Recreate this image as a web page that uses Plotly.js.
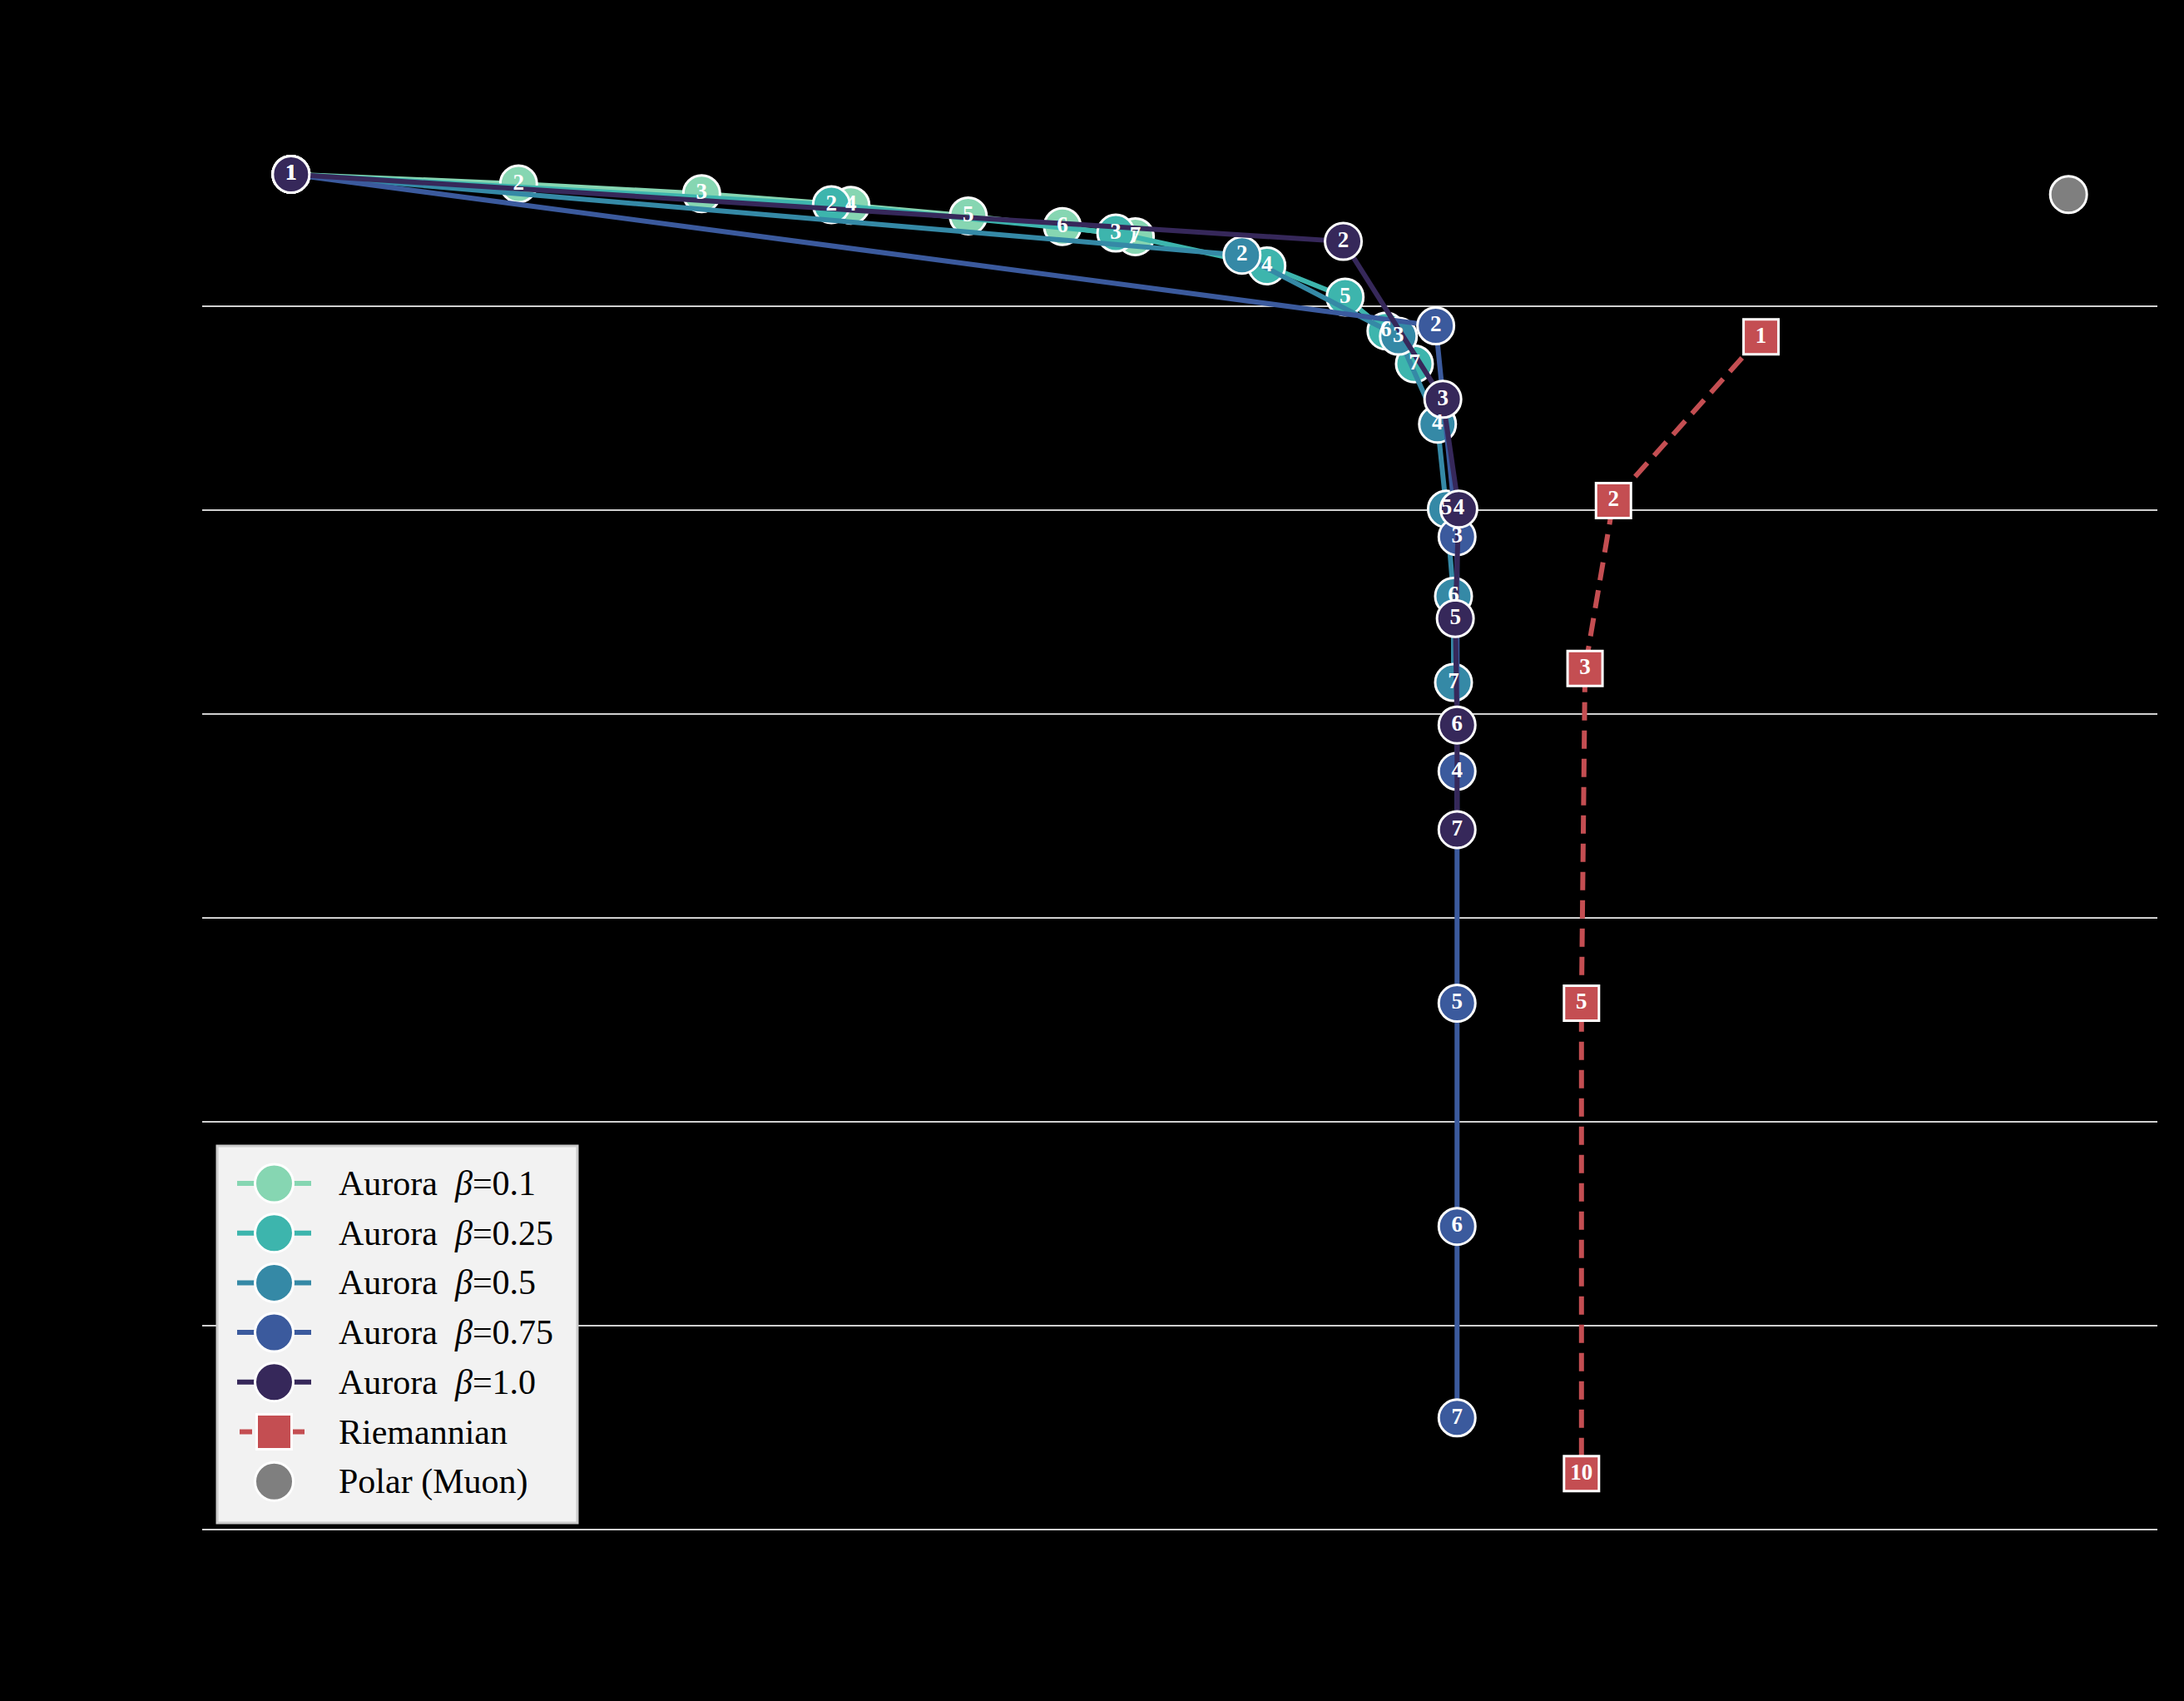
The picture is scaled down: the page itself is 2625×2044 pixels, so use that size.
<!DOCTYPE html>
<html>
<head>
<meta charset="utf-8">
<script src="https://cdn.plot.ly/plotly-3.0.1.min.js"></script>
<style>
    html, body { margin: 0; padding: 0; background: #000; }
    #plotlyFig { width: 2625px; height: 2044px; }
</style>
</head>
<body>
<div id="plotlyFig"></div>
<script>
// values (axes have no visible labels, y is in decades)
const steps = ['1', '2', '3', '4', '5', '6', '7'];

const b010X = [0, 0.128, 0.231, 0.315, 0.381, 0.434, 0.475];
const b010Y = [-0.355, -0.402, -0.450, -0.507, -0.559, -0.611, -0.661];

const b025X = [0, 0.304, 0.464, 0.549, 0.593, 0.616, 0.632];
const b025Y = [-0.355, -0.504, -0.643, -0.804, -0.957, -1.123, -1.284];

const b050X = [0, 0.535, 0.623, 0.645, 0.650, 0.654, 0.654];
const b050Y = [-0.355, -0.752, -1.149, -1.580, -1.996, -2.424, -2.846];

const b075X = [0, 0.644, 0.656, 0.656, 0.656, 0.656, 0.656];
const b075Y = [-0.355, -1.098, -2.132, -3.282, -4.419, -5.513, -6.452];

const b100X = [0, 0.592, 0.648, 0.657, 0.655, 0.656, 0.656];
const b100Y = [-0.355, -0.684, -1.458, -1.996, -2.533, -3.055, -3.568];

const riemSteps = ['1', '2', '3', '5', '10'];
const riemX = [0.827, 0.744, 0.728, 0.726, 0.726];
const riemY = [-1.152, -1.955, -2.778, -4.419, -6.725];

const polarX = [1.0];
const polarY = [-0.454];

const gridY = [-1, -2, -3, -4, -5, -6, -7];

const auroraNames = ['0.1', '0.25', '0.5', '0.75', '1.0'];
const auroraColors = ['#86d6b2', '#3db5ad', '#3589a6', '#3b5a9d', '#36285a'];
const auroraXs = [b010X, b025X, b050X, b075X, b100X];
const auroraYs = [b010Y, b025Y, b050Y, b075Y, b100Y];
const riemColor = '#c44e52';
const polarColor = '#7f7f7f';

const serif = '"Liberation Serif", "Times New Roman", serif';

// plot area in pixels, used to place the hand-built legend
const W = 2625, H = 2044;
const M = { l: 243, r: 32, t: 131, b: 196 };
const px = (X) => (X - M.l) / (W - M.l - M.r);
const py = (Y) => (H - M.b - Y) / (H - M.t - M.b);

const legendEntries = auroraNames.map((b, i) => ({
    text: 'Aurora\u00a0\u00a0<i>β</i>=' + b,
    color: auroraColors[i],
    symbol: 'circle',
    dash: 'solid',
})).concat([
    { text: 'Riemannian', color: riemColor, symbol: 'square', dash: '15px,6px' },
    { text: 'Polar (Muon)', color: polarColor, symbol: 'circle', dash: null },
]);

const orthPlot = {
    element: document.getElementById('plotlyFig'),
    config: {
        staticPlot: true,
    },
    layout: {
        width: W,
        height: H,
        margin: M,
        paper_bgcolor: '#000000',
        plot_bgcolor: '#000000',
        font: {
            family: serif,
            color: '#000000',
        },
        xaxis: {
            range: [-0.05, 1.05],
            showgrid: false,
            zeroline: false,
            showline: false,
            ticks: '',
            showticklabels: false,
        },
        yaxis: {
            range: [-7.04, -0.035],
            tickvals: gridY,
            showgrid: true,
            gridcolor: '#d0d0d0',
            gridwidth: 2,
            zeroline: false,
            showline: false,
            ticks: '',
            showticklabels: false,
        },
        showlegend: false,
    },
    get lines() {
        const traces = auroraNames.map((b, i) => ({
            x: auroraXs[i],
            y: auroraYs[i],
            type: 'scatter',
            mode: 'lines+markers',
            name: 'Aurora β=' + b,
            line: { color: auroraColors[i], width: 6 },
            marker: {
                color: auroraColors[i],
                size: 44,
                line: { color: '#ffffff', width: 3 },
            },
        }));
        traces.push({
            x: riemX,
            y: riemY,
            type: 'scatter',
            mode: 'lines+markers',
            name: 'Riemannian',
            line: { color: riemColor, width: 6, dash: '22px,12px' },
            marker: {
                symbol: 'square',
                color: riemColor,
                size: 42,
                line: { color: '#ffffff', width: 3 },
            },
        });
        traces.push({
            x: polarX,
            y: polarY,
            type: 'scatter',
            mode: 'markers',
            name: 'Polar (Muon)',
            marker: {
                color: polarColor,
                size: 44,
                line: { color: '#ffffff', width: 3 },
            },
        });
        return traces;
    },
    // step numbers go on top of every marker
    get labels() {
        const label = (x, y, text) => ({
            x: x,
            y: y,
            text: text,
            type: 'scatter',
            mode: 'text',
            textposition: 'middle center',
            textfont: { family: serif, size: 27, color: '#ffffff', weight: 'bold' },
            showlegend: false,
            hoverinfo: 'skip',
        });
        const traces = auroraNames.map((b, i) => label(auroraXs[i], auroraYs[i], steps));
        traces.push(label(riemX, riemY, riemSteps));
        return traces;
    },
    // matplotlib-style legend with full size markers
    legend() {
        const shapes = [{
            type: 'rect', xref: 'paper', yref: 'paper', layer: 'above',
            x0: px(261), x1: px(694), y0: py(1830), y1: py(1377),
            fillcolor: '#f2f2f2',
            line: { color: '#cccccc', width: 3 },
        }];
        const annotations = [];
        legendEntries.forEach((e, i) => {
            const yc = py(1422 + 59.7 * i);
            if (e.dash) {
                shapes.push({
                    type: 'line', xref: 'paper', yref: 'paper', layer: 'above',
                    x0: px(e.symbol === 'square' ? 288 : 285), x1: px(e.symbol === 'square' ? 372 : 374),
                    y0: yc, y1: yc,
                    line: { color: e.color, width: 6, dash: e.dash },
                });
            }
            const r = e.symbol === 'square' ? 21 : 23;
            shapes.push({
                type: e.symbol === 'square' ? 'rect' : 'circle',
                xref: 'paper', yref: 'paper', layer: 'above',
                xsizemode: 'pixel', ysizemode: 'pixel',
                xanchor: px(329.5), yanchor: yc,
                x0: -r, x1: r, y0: -r, y1: r,
                fillcolor: e.color,
                line: { color: '#ffffff', width: 3 },
            });
            annotations.push({
                xref: 'paper', yref: 'paper',
                x: px(405), y: yc,
                xanchor: 'left', yanchor: 'middle',
                showarrow: false,
                text: e.text,
                font: { family: serif, size: 42, color: '#000000' },
            });
        });
        this.layout.shapes = shapes;
        this.layout.annotations = annotations;
    },
    init() {
        this.legend();
        Plotly.newPlot(this.element, this.lines.concat(this.labels), this.layout, this.config);
    },
};

orthPlot.init();
</script>
</body>
</html>
